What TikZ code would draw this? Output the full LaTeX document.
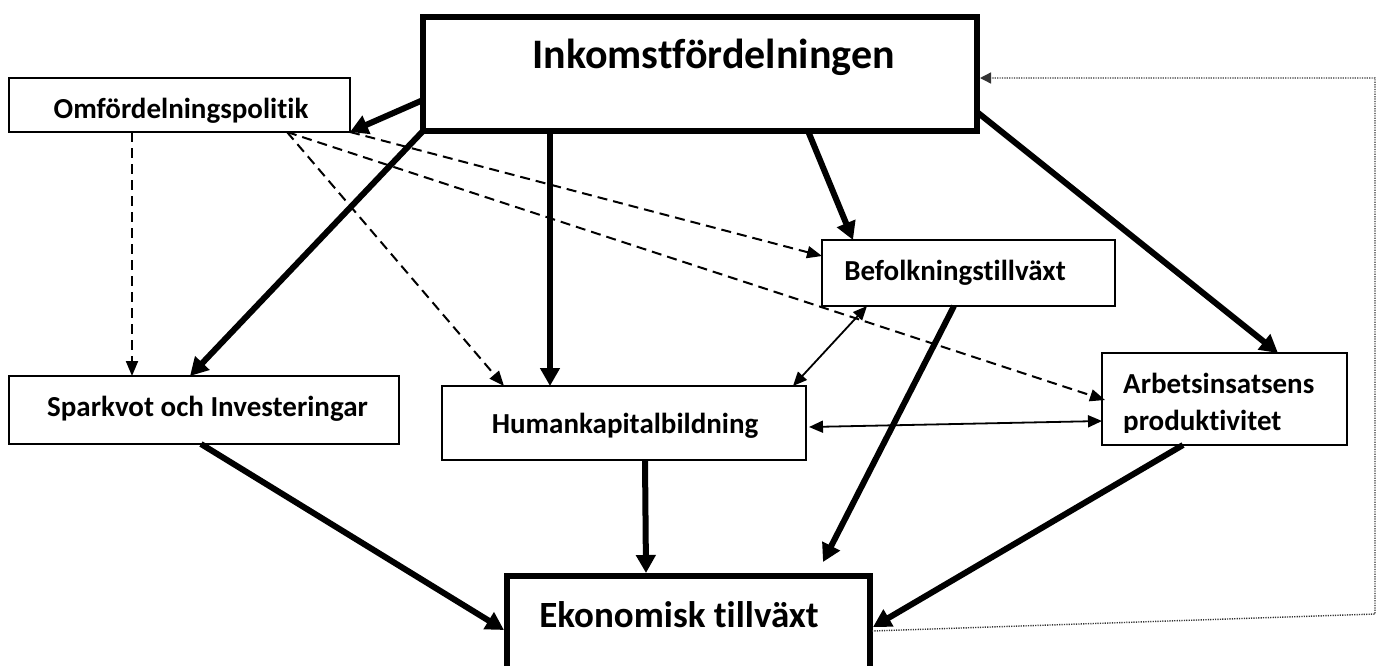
\documentclass[tikz,border=0pt]{standalone}
\usepackage{fontspec}
\setmainfont{Carlito}[Ligatures={NoCommon,NoContextual}]
\usetikzlibrary{arrows.meta,calc}
\begin{document}
\begin{tikzpicture}[x=1pt,y=-1pt,
  thinbox/.style={draw=black, line width=1.8pt, inner sep=0pt, outer sep=0pt},
  thickbox/.style={draw=black, line width=5.5pt, inner sep=0pt, outer sep=0pt},
  lbl/.style={inner sep=0pt, font=\bfseries\fontsize{29}{35}\selectfont},
  thickarrow/.style={line width=6pt, -{Triangle[length=18pt,width=19pt]}},
  thinarrow/.style={line width=1.8pt, {Triangle[length=14pt,width=12pt]}-{Triangle[length=14pt,width=12pt]}},
  dasharrow/.style={line width=2pt, dash pattern=on 10pt off 6pt, -{Triangle[length=15pt,width=12pt]}},
  dotarrow/.style={line width=1.4pt, black!80, dash pattern=on 1.2pt off 1.2pt, -{Triangle[length=11pt,width=11pt]}},
]
\useasboundingbox (0,0) rectangle (1381,665);
\fill[white] (0,0) rectangle (1381,665);

% boxes
\node[thickbox, minimum width=554pt, minimum height=114pt] (ink) at (700,74) {};
\node[thinbox, minimum width=341pt, minimum height=54pt] (omf) at (179.5,105) {};
\node[thinbox, minimum width=293pt, minimum height=66pt] (bef) at (968.5,273) {};
\node[thinbox, minimum width=390pt, minimum height=68pt] (spa) at (204,410) {};
\node[thinbox, minimum width=364pt, minimum height=74pt] (hum) at (624,423) {};
\node[thinbox, minimum width=245pt, minimum height=92pt] (arb) at (1224.5,399) {};
\node[thickbox, minimum width=363pt, minimum height=144pt] (eko) at (688.5,648) {};

% texts
\node[lbl, font=\bfseries\fontsize{42}{50}\selectfont, anchor=base] (inkT) at (713.5,68) {Inkomstfördelningen};
\node[lbl, anchor=base] (omfT) at (181,118) {Omfördelningspolitik};
\node[lbl, anchor=base] (befT) at (955,280) {Befolkningstillväxt};
\node[lbl, anchor=base] (spaT) at (207.5,416) {Sparkvot och Investeringar};
\node[lbl, anchor=base] (humT) at (625,433) {Humankapitalbildning};
\node[lbl, anchor=base west] (arbT) at (1123,393) {Arbetsinsatsens};
\begin{scope}
\clip (1103,353) rectangle (1346,432);
\node[lbl, anchor=base west] (prodT) at (1123,430) {produktivitet};
\end{scope}
\node[lbl, font=\bfseries\fontsize{37}{44}\selectfont, anchor=base] (ekoT) at (679,627) {Ekonomisk tillväxt};

\coordinate (befend) at (823,562);
\coordinate (fbR) at (1375,614);

% thick arrows
\draw[thickarrow] ($(ink.west)+(0,26)$) -- (omf.south east);
\draw[thickarrow] (ink.south west) -- ($(spa.north west)+(181,0)$);
\draw[thickarrow] ($(ink.south west)+(127,0)$) -- ($(hum.north west)+(108,0)$);
\draw[thickarrow] ($(ink.south west)+(385,0)$) -- ($(bef.north west)+(31,0)$);
\draw[thickarrow] ($(ink.east)+(0,38)$) -- ($(arb.north west)+(176,0)$);
\draw[thickarrow] ($(spa.south west)+(192,0)$) -- ($(eko.north west)+(-3,54)$);
\draw[thickarrow] ($(hum.south west)+(203,0)$) -- ($(eko.north west)+(139,-3)$);
\draw[thickarrow] ($(bef.south west)+(132,0)$) -- (befend);
\draw[thickarrow] ($(arb.south west)+(81,0)$) -- ($(eko.north east)+(3,51)$);

% thin double arrows
\draw[thinarrow] ($(bef.south west)+(45,0)$) -- ($(hum.north east)+(-13,0)$);
\draw[thinarrow] ($(hum.east)+(3,4)$) -- ($(arb.west)+(0,22)$);

% dashed arrows
\draw[dasharrow] ($(omf.south west)+(123,0)$) -- ($(spa.north west)+(123,0)$);
\draw[dasharrow] ($(omf.south west)+(278,0)$) -- ($(hum.north west)+(62,0)$);
\draw[dasharrow] (omf.south east) -- ($(bef.west)+(0,-17)$);
\draw[dasharrow] ($(omf.south west)+(278,0)$) -- ($(arb.west)+(3,1)$);

% dotted feedback
\draw[dotarrow] ($(eko.north east)+(2,55)$) -- (fbR) |- ($(ink.east)+(3,4)$);
\end{tikzpicture}
\end{document}
